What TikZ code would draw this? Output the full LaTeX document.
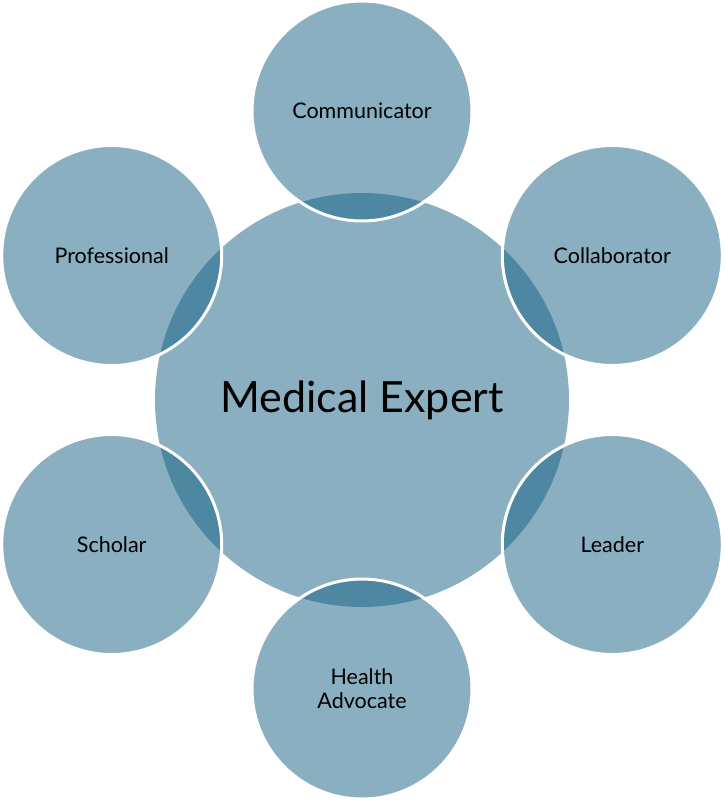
\documentclass[tikz,border=0pt]{standalone}
\usepackage{fontspec}
\setmainfont{Lato}
\begin{document}
\begin{tikzpicture}[x=1pt,y=-1pt,
  hub/.style={circle, minimum size=414pt, inner sep=0pt, fill={rgb,255:red,19;green,95;blue,131}, fill opacity=0.5, text opacity=1},
  role/.style={circle, minimum size=220pt, inner sep=0pt, fill={rgb,255:red,19;green,95;blue,131}, fill opacity=0.5, draw=white, line width=3pt, text opacity=1},
  lbl/.style={font=\fontsize{21.5}{24}\selectfont, align=center, inner sep=0pt}]
\useasboundingbox (0,0) rectangle (724,801);
\node[hub] (me) at (362,400) {};
\node[role] (com) at (362,111) {};
\node[role] (col) at (612.3,255.5) {};
\node[role] (lea) at (612.3,544.5) {};
\node[role] (hea) at (362,689) {};
\node[role] (sch) at (111.7,544.5) {};
\node[role] (pro) at (111.7,255.5) {};
\node[font=\fontsize{43}{50}\selectfont, inner sep=0pt] at (me) {Medical Expert};
\node[lbl] at (com) {Communicator};
\node[lbl] at (col) {Collaborator};
\node[lbl] at (lea) {Leader};
\node[lbl] at (hea) {Health\\Advocate};
\node[lbl] at (sch) {Scholar};
\node[lbl] at (pro) {Professional};
\end{tikzpicture}
\end{document}
